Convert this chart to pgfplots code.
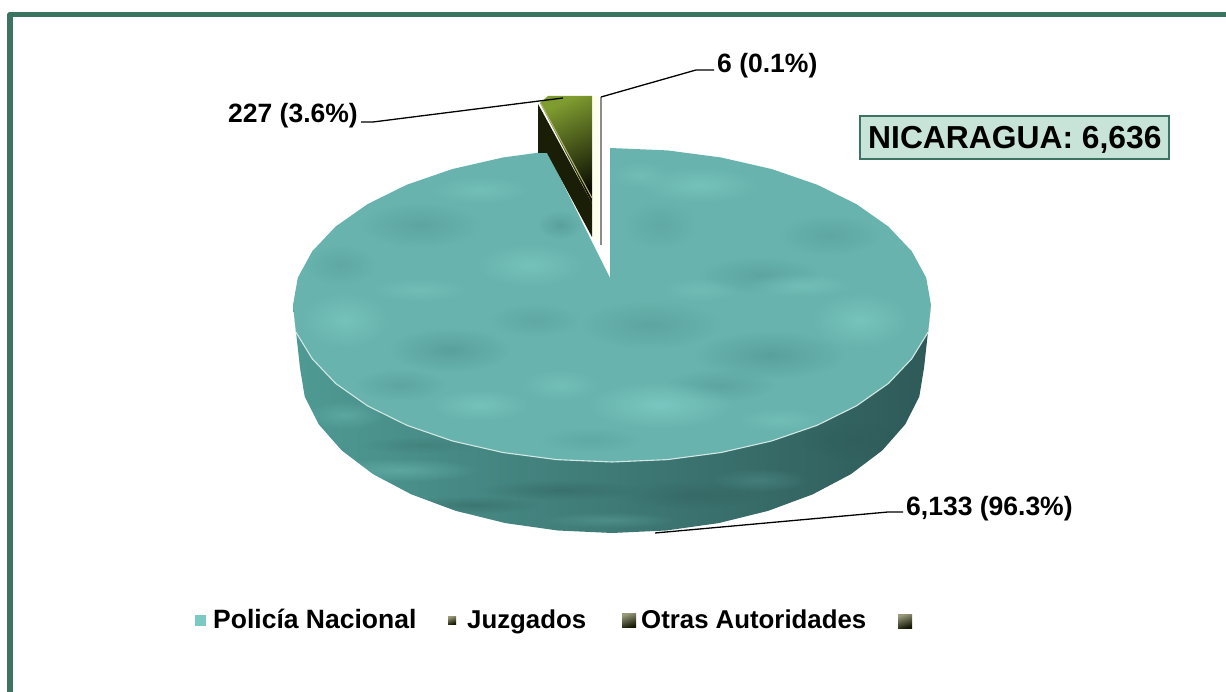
\documentclass[border=0pt]{standalone}
\usepackage{pgfplots}
\pgfplotsset{compat=1.18}
\usepackage{fontspec}
\setmainfont{Liberation Sans}
\usetikzlibrary{fadings}
\tikzfading[name=softblob,inner color=transparent!0,outer color=transparent!100]
\definecolor{frame}{HTML}{3B7460}
\definecolor{boxfill}{HTML}{C8E3D8}
\definecolor{topteal}{HTML}{68B3AD}
\definecolor{lightteal}{HTML}{82D2CA}
\definecolor{darkteal}{HTML}{4F9492}
\definecolor{wallL}{HTML}{4F9A94}
\definecolor{wallM}{HTML}{437F7B}
\definecolor{wallR}{HTML}{2E5A58}
\definecolor{wedgeA}{HTML}{7F9C30}
\definecolor{wedgeB}{HTML}{3A4A12}
\definecolor{wedgeC}{HTML}{0C0E02}
\definecolor{wedgeWall}{HTML}{1A1E07}
\definecolor{legA}{HTML}{9A9C7C}
\definecolor{legB}{HTML}{141804}
\newcommand{\blob}[6]{\fill[#5,opacity=#6,path fading=softblob] (axis cs:#1,#2) ellipse [x radius=#3,y radius=#4];}
\newcommand{\lab}[4]{\node[anchor=base west,inner sep=0pt,font=\fontsize{#3}{#3}\selectfont\bfseries] at (axis cs:#1,#2) {#4};}
\newcommand{\swatch}[4]{\fill[top color=legA,bottom color=legB,shading angle=20] (axis cs:#1,#2) rectangle (axis cs:#3,#4);}
\begin{document}
\begin{tikzpicture}
\begin{axis}[hide axis,scale only axis,width=1226pt,height=692pt,
  xmin=0,xmax=1226,ymin=0,ymax=692,y dir=reverse,clip=true]
% frame
\addplot[frame,line width=5.2pt,line join=round] coordinates {(10,692) (10,14.2) (1226,14.2)};
% wall (6,133)
\addplot[draw=none,shade,left color=wallL,middle color=wallM,right color=wallR] coordinates {
(931,305) (928,332.3) (911.8,358.7) (888.3,383.5) (856.4,405.9) (817.1,425.3) (771.5,441) (721.1,452.5) (667.4,459.6) (612,462)
(556.6,459.6) (502.9,452.5) (452.5,441) (406.9,425.3) (367.6,405.9) (335.7,383.5) (312.2,358.7) (296,332.3) (293,305)
(300,368) (304.7,396.6) (318.8,424.4) (341.8,450.5) (373,474.1) (411.4,494.4) (456,510.9) (505.3,523.1) (557.8,530.5) (612,533)
(666.2,530.5) (718.7,523.1) (768,510.9) (812.6,494.4) (851,474.1) (882.2,450.5) (905.2,424.4) (919.3,396.6) (924,368)} -- cycle;
% wall streaks, kept inside the wall
\begin{scope}
\clip (axis cs:293,305) -- (axis cs:300,368) -- (axis cs:304.7,396.6) -- (axis cs:318.8,424.4) -- (axis cs:341.8,450.5) -- (axis cs:373,474.1) -- (axis cs:411.4,494.4) -- (axis cs:456,510.9) -- (axis cs:505.3,523.1) -- (axis cs:557.8,530.5) -- (axis cs:612,533) -- (axis cs:666.2,530.5) -- (axis cs:718.7,523.1) -- (axis cs:768,510.9) -- (axis cs:812.6,494.4) -- (axis cs:851,474.1) -- (axis cs:882.2,450.5) -- (axis cs:905.2,424.4) -- (axis cs:919.3,396.6) -- (axis cs:924,368) -- (axis cs:931,305) -- cycle;
\blob{400}{470}{80}{12}{lightteal}{.35}
\blob{345}{415}{40}{14}{lightteal}{.30}
\blob{470}{505}{70}{9}{wallR}{.40}
\blob{560}{490}{80}{10}{wallR}{.40}
\blob{610}{520}{70}{8}{lightteal}{.22}
\blob{690}{495}{70}{14}{wallR}{.35}
\blob{760}{480}{50}{12}{lightteal}{.18}
\blob{850}{440}{50}{18}{wallR}{.40}
\blob{420}{445}{60}{8}{wallR}{.20}
\end{scope}
% top face (6,133)
\addplot[draw=none,fill=topteal] coordinates {
(610,278) (610,148) (667.4,150.4) (721.1,157.5) (771.5,169) (817.1,184.7) (856.4,204.1) (888.3,226.5) (911.8,251.3) (926.2,277.7) (931,305)
(928,332.3) (911.8,358.7) (888.3,383.5) (856.4,405.9) (817.1,425.3) (771.5,441) (721.1,452.5) (667.4,459.6) (612,462)
(556.6,459.6) (502.9,452.5) (452.5,441) (406.9,425.3) (367.6,405.9) (335.7,383.5) (312.2,358.7) (296,332.3) (293,305)
(297.8,277.7) (312.2,251.3) (335.7,226.5) (367.6,204.1) (406.9,184.7) (452.5,169) (502.9,157.5) (547,151.5)} -- cycle;
% mottling of the top face
\blob{450}{350}{60}{22}{darkteal}{.60}
\blob{400}{385}{45}{16}{darkteal}{.45}
\blob{770}{355}{75}{24}{darkteal}{.60}
\blob{720}{385}{55}{16}{darkteal}{.45}
\blob{830}{235}{50}{20}{darkteal}{.40}
\blob{760}{275}{60}{18}{darkteal}{.45}
\blob{420}{225}{60}{22}{darkteal}{.45}
\blob{340}{265}{35}{20}{darkteal}{.35}
\blob{650}{325}{70}{24}{darkteal}{.45}
\blob{535}{320}{45}{16}{darkteal}{.35}
\blob{560}{225}{22}{14}{darkteal}{.60}
\blob{660}{225}{35}{24}{darkteal}{.30}
\blob{590}{440}{50}{12}{darkteal}{.30}
\blob{480}{405}{50}{16}{lightteal}{.50}
\blob{660}{405}{75}{24}{lightteal}{.65}
\blob{560}{385}{40}{16}{lightteal}{.40}
\blob{780}{420}{45}{12}{lightteal}{.35}
\blob{700}{185}{60}{18}{lightteal}{.50}
\blob{800}{285}{55}{12}{lightteal}{.40}
\blob{860}{320}{50}{28}{lightteal}{.55}
\blob{530}{265}{55}{22}{lightteal}{.50}
\blob{480}{190}{50}{14}{lightteal}{.40}
\blob{345}{320}{45}{28}{lightteal}{.50}
\blob{420}{290}{50}{12}{lightteal}{.35}
\blob{700}{290}{40}{12}{lightteal}{.30}
\blob{640}{175}{30}{14}{lightteal}{.35}
% light rim at the front of the top face
\addplot[color=white!70!topteal,line width=1.1pt] coordinates {
(928,332.3) (911.8,358.7) (888.3,383.5) (856.4,405.9) (817.1,425.3) (771.5,441) (721.1,452.5) (667.4,459.6) (612,462)
(556.6,459.6) (502.9,452.5) (452.5,441) (406.9,425.3) (367.6,405.9) (335.7,383.5) (312.2,358.7) (296,332.3)};
% exploded slice wall (227)
\addplot[draw=none,fill=wedgeWall] coordinates {
(538,104) (592,203) (592,237) (547,153) (538,153)} -- cycle;
% exploded slice top (227)
\addplot[draw=none,shade,top color=wedgeA,middle color=wedgeB,bottom color=wedgeC,shading angle=25] coordinates {
(540,103) (548,96) (592,96) (592,203)} -- cycle;
\addplot[color=black!25!olive!50!white,line width=1pt] coordinates {(541,104) (592,198)};
% slice (6): thin white wedge with grey rim
\addplot[color=black!45,line width=1.2pt] coordinates {(601,97) (601,245)};
\addplot[color=yellow!8!white,line width=6pt] coordinates {(596,96) (596,240)};
% leader lines
\addplot[black,line width=1.3pt] coordinates {(361,122) (373,122) (563,98)};
\addplot[black,line width=1.3pt] coordinates {(601,97) (696,70) (714,70)};
\addplot[black,line width=1.3pt] coordinates {(655,533) (888,512) (903,512)};
% labels
\lab{228}{123}{26.5}{227 (3.6\%)}
\lab{717}{73}{26.5}{6 (0.1\%)}
\lab{906}{515}{26.5}{6,133 (96.3\%)}
% total box
\node[draw=frame,fill=boxfill,line width=1.8pt,minimum width=309pt,minimum height=43.5pt,inner sep=0pt,anchor=center] at (axis cs:1014.5,137.5) {};
\lab{868}{149}{31.8}{NICARAGUA: 6,636}
% legend
\addplot[only marks,mark=square*,mark size=4.8pt,color=lightteal!85!darkteal,mark options={draw=none}] coordinates {(200,620)};
\swatch{448}{616}{456}{624}
\swatch{622}{613}{636}{627}
\swatch{898}{614}{912}{628}
\lab{213}{628}{26.5}{Policía Nacional}
\lab{467}{628}{25.8}{Juzgados}
\lab{641}{628}{25.8}{Otras Autoridades}
\end{axis}
\pgfresetboundingbox
\path[use as bounding box] (0,0) rectangle (1226pt,692pt);
\end{tikzpicture}
\end{document}
